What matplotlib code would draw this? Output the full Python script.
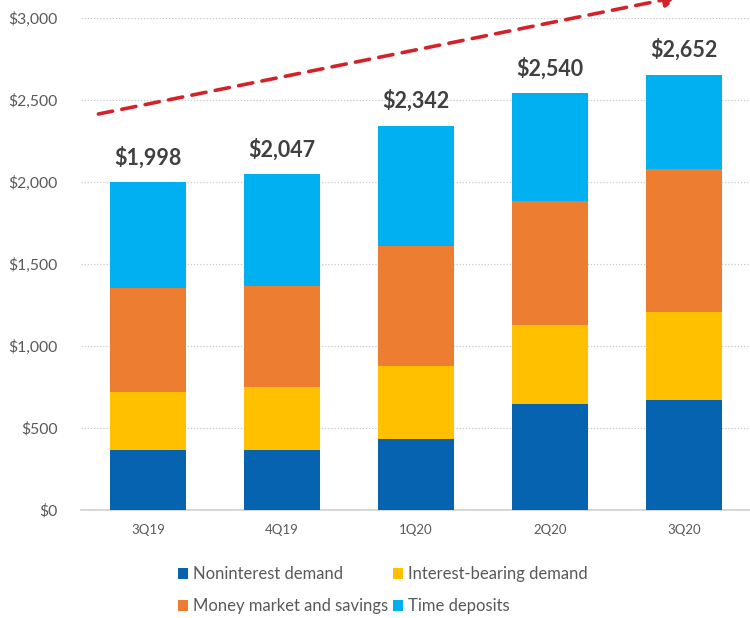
import numpy as np
import matplotlib.pyplot as plt
from matplotlib.patches import Patch
from matplotlib.ticker import FuncFormatter

plt.rcParams["font.family"] = ["Lato", "DejaVu Sans"]

quarters = ["3Q19", "4Q19", "1Q20", "2Q20", "3Q20"]
noninterest = [366, 366, 431, 644, 667]
interest_bearing = [355, 382, 449, 484, 542]
money_market = [631, 620, 730, 758, 870]
time_deposits = [646, 679, 732, 654, 573]
totals = [1998, 2047, 2342, 2540, 2652]

series = [
    ("Noninterest demand", noninterest, "#0563B0"),
    ("Interest-bearing demand", interest_bearing, "#FFC000"),
    ("Money market and savings", money_market, "#ED7D31"),
    ("Time deposits", time_deposits, "#00B0F0"),
]

fig = plt.figure(figsize=(7.5, 6.18), dpi=100)
ax = fig.add_axes([0.108, 0.175, 0.893, 0.796])

x = np.arange(len(quarters))
bottom = np.zeros(len(quarters))
for name, vals, color in series:
    ax.bar(x, vals, width=0.57, bottom=bottom, color=color, label=name, zorder=3)
    bottom += np.asarray(vals, dtype=float)

for xi, tot in zip(x, totals):
    ax.text(xi, tot + 85, f"${tot:,}", ha="center", va="bottom",
            fontsize=15.5, fontweight="bold", color="#404040")

ax.set_xlim(-0.5, 4.5)
ax.set_ylim(0, 3000)
ax.set_yticks(np.arange(0, 3001, 500))
ax.yaxis.set_major_formatter(FuncFormatter(lambda v, _: f"${v:,.0f}"))
ax.set_xticks(x)
ax.set_xticklabels(quarters)
ax.tick_params(axis="both", length=0, colors="#595959")
ax.tick_params(axis="y", labelsize=11.3, pad=17)
ax.tick_params(axis="x", labelsize=9.5, pad=10)
ax.grid(axis="y", linestyle=(0, (1, 1.5)), color="#C8C8C8", linewidth=0.9, zorder=0)
for side in ["top", "right", "left"]:
    ax.spines[side].set_visible(False)
ax.spines["bottom"].set_color("#D0D0D0")
ax.spines["bottom"].set_linewidth(1.2)

# growth trend arrow across the top
ax.annotate("", xy=(3.97, 3130), xytext=(-0.37, 2414),
            arrowprops=dict(arrowstyle="-|>,head_length=0.9,head_width=0.45",
                            color="#D2232A", lw=2.6, linestyle=(0, (4, 2.6)),
                            shrinkA=0, shrinkB=0),
            annotation_clip=False, zorder=4)

handles = [Patch(facecolor=c, label=n) for n, _, c in series]
order = [0, 2, 1, 3]
fig.legend([handles[i] for i in order], [handles[i].get_label() for i in order],
           ncol=2, loc="center", bbox_to_anchor=(0.51, 0.045), frameon=False,
           fontsize=12, labelcolor="#595959", handlelength=0.6, handleheight=0.6,
           handletextpad=0.3, columnspacing=0.3, labelspacing=0.95)

fig.savefig("out.png", dpi=100)
